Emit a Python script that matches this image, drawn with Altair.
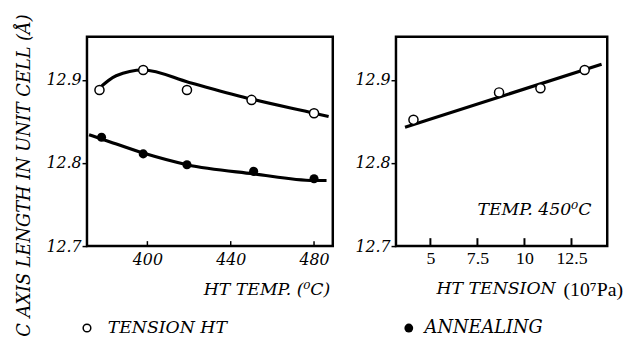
import altair as alt
import pandas as pd

# ---- data ----
temp_x = [377, 398, 419, 450, 480]
tension_y = [12.888, 12.912, 12.888, 12.876, 12.860]
anneal_x = [378, 398, 419, 451, 480]
anneal_y = [12.831, 12.811, 12.798, 12.790, 12.781]

# smooth fitted curves (hand-drawn in the original)
tcurve_x = [376, 385, 398, 420, 450, 480, 487]
tcurve_y = [12.888, 12.905, 12.912, 12.897, 12.877, 12.860, 12.856]
acurve_x = [372, 378, 398, 419, 451, 480, 486]
acurve_y = [12.834, 12.829, 12.812, 12.798, 12.787, 12.779, 12.779]

tens_x = [4.1, 8.65, 10.85, 13.2]
tens_y = [12.852, 12.885, 12.890, 12.912]
fit_x = [3.65, 14.1]
fit_y = [12.843, 12.919]

left_ticks = [400, 440, 480]
right_ticks = [5, 7.5, 10, 12.5]
y_ticks = [12.7, 12.8, 12.9]

SERIF = "DejaVu Serif"
UPRIGHT = "Liberation Serif, Times New Roman, serif"
YDOM = [12.7, 12.952]

ysc = alt.Scale(domain=YDOM, nice=False, zero=False)
lxsc = alt.Scale(domain=[371, 489], nice=False, zero=False)
rxsc = alt.Scale(domain=[3.17, 14.4], nice=False, zero=False)

# ---------------- left panel ----------------
ldf_t = pd.DataFrame({"x": temp_x, "y": tension_y})
ldf_a = pd.DataFrame({"x": anneal_x, "y": anneal_y})
lc_t = pd.DataFrame({"x": tcurve_x, "y": tcurve_y})
lc_a = pd.DataFrame({"x": acurve_x, "y": acurve_y})

yaxis_left = alt.Axis(values=y_ticks, format=".1f", domain=False, grid=False,
                      tickSize=5, tickWidth=1.5, tickColor="black",
                      labelFont=SERIF, labelFontStyle="italic", labelFontSize=16,
                      labelColor="black", labelPadding=1,
                      title="C AXIS LENGTH IN UNIT CELL (Å)",
                      titleFont=SERIF, titleFontStyle="italic", titleFontSize=18,
                      titleFontWeight="normal", titleColor="black",
                      titleAngle=270, titleX=-63, titleY=140,
                      titleAlign="center", titleBaseline="middle")
xaxis_left = alt.Axis(values=left_ticks, format="d", domain=False, grid=False,
                      ticks=False, labelFont=SERIF, labelFontStyle="italic",
                      labelFontSize=16, labelColor="black", labelPadding=6,
                      title="HT TEMP. (⁰C)", titleFont=SERIF, titleFontStyle="italic",
                      titleFontSize=17.5, titleFontWeight="normal", titleColor="black",
                      titleX=246, titleY=44, titleAlign="right", titleBaseline="middle")

lcurve_t = alt.Chart(lc_t).mark_line(color="black", strokeWidth=3.2, interpolate="monotone").encode(
    x=alt.X("x:Q", scale=lxsc, axis=xaxis_left),
    y=alt.Y("y:Q", scale=ysc, axis=yaxis_left))
lcurve_a = alt.Chart(lc_a).mark_line(color="black", strokeWidth=3.2, interpolate="monotone").encode(
    x=alt.X("x:Q", scale=lxsc), y=alt.Y("y:Q", scale=ysc))
lpts_t = alt.Chart(ldf_t).mark_point(shape="circle", size=85, filled=True, fill="white",
                                     stroke="black", strokeWidth=1.5, opacity=1).encode(
    x=alt.X("x:Q", scale=lxsc), y=alt.Y("y:Q", scale=ysc))
lpts_a = alt.Chart(ldf_a).mark_point(shape="circle", size=85, filled=True, color="black",
                                     opacity=1).encode(
    x=alt.X("x:Q", scale=lxsc), y=alt.Y("y:Q", scale=ysc))
lticks = alt.Chart(pd.DataFrame({"x": left_ticks})).mark_rule(color="black", strokeWidth=1.5).encode(
    x=alt.X("x:Q", scale=lxsc), y=alt.value(212), y2=alt.value(207))

leg1_sym = alt.Chart(pd.DataFrame({"a": [0]})).mark_point(
    shape="circle", size=60, filled=True, fill="white", stroke="black",
    strokeWidth=1.5, opacity=1).encode(x=alt.value(0), y=alt.value(295))
leg1_txt = alt.Chart(pd.DataFrame({"t": ["TENSION HT"]})).mark_text(
    font=SERIF, fontStyle="italic", fontSize=17.5, align="left", baseline="middle",
    color="black").encode(x=alt.value(21), y=alt.value(295), text="t:N")

left = alt.layer(lcurve_t, lcurve_a, lpts_t, lpts_a, lticks, leg1_sym, leg1_txt).properties(
    width=249, height=212)

# ---------------- right panel ----------------
rdf = pd.DataFrame({"x": tens_x, "y": tens_y})
rfit = pd.DataFrame({"x": fit_x, "y": fit_y})

yaxis_right = alt.Axis(values=y_ticks, format=".1f", domain=False, grid=False,
                       tickSize=5, tickWidth=1.5, tickColor="black",
                       labelFont=SERIF, labelFontStyle="italic", labelFontSize=16,
                       labelColor="black", labelPadding=1, title=None)
xaxis_right = alt.Axis(values=right_ticks, domain=False, grid=False, ticks=False,
                       labelFont=UPRIGHT, labelFontSize=18,
                       labelColor="black", labelPadding=4, title=None,
                       labelExpr="datum.value == 7.5 || datum.value == 12.5 ? format(datum.value, '.1f') : format(datum.value, 'd')")

rline = alt.Chart(rfit).mark_line(color="black", strokeWidth=3.2).encode(
    x=alt.X("x:Q", scale=rxsc, axis=xaxis_right),
    y=alt.Y("y:Q", scale=ysc, axis=yaxis_right))
rpts = alt.Chart(rdf).mark_point(shape="circle", size=85, filled=True, fill="white",
                                 stroke="black", strokeWidth=1.5, opacity=1).encode(
    x=alt.X("x:Q", scale=rxsc), y=alt.Y("y:Q", scale=ysc))
rticks = alt.Chart(pd.DataFrame({"x": right_ticks})).mark_rule(color="black", strokeWidth=2).encode(
    x=alt.X("x:Q", scale=rxsc), y=alt.value(212), y2=alt.value(204))
rnote = alt.Chart(pd.DataFrame({"t": ["TEMP. 450⁰C"]})).mark_text(
    font=SERIF, fontStyle="italic", fontSize=17.5, align="right", baseline="middle",
    color="black").encode(x=alt.value(198), y=alt.value(176), text="t:N")
rtitle1 = alt.Chart(pd.DataFrame({"t": ["HT TENSION"]})).mark_text(
    font=SERIF, fontStyle="italic", fontSize=17.5, align="left", baseline="middle",
    color="black").encode(x=alt.value(41), y=alt.value(256), text="t:N")
rtitle2 = alt.Chart(pd.DataFrame({"t": ["(10⁷Pa)"]})).mark_text(
    font=UPRIGHT, fontSize=20, align="right", baseline="middle",
    color="black").encode(x=alt.value(230), y=alt.value(257), text="t:N")
leg2_sym = alt.Chart(pd.DataFrame({"a": [0]})).mark_point(
    shape="circle", size=80, filled=True, color="black", opacity=1).encode(
    x=alt.value(13), y=alt.value(295))
leg2_txt = alt.Chart(pd.DataFrame({"t": ["ANNEALING"]})).mark_text(
    font=SERIF, fontStyle="italic", fontSize=18, align="left", baseline="middle",
    color="black").encode(x=alt.value(29), y=alt.value(295), text="t:N")

right = alt.layer(rline, rpts, rticks, rnote, rtitle1, rtitle2, leg2_sym, leg2_txt).properties(
    width=214, height=212)

chart = alt.hconcat(left, right, spacing=64, bounds="flush").properties(
    padding={"left": 6, "top": 2, "right": 0, "bottom": 0},
    background="white"
).configure_view(stroke="black", strokeWidth=2.5)

chart.save("out.html", embed_options={"renderer": "svg", "actions": False})
